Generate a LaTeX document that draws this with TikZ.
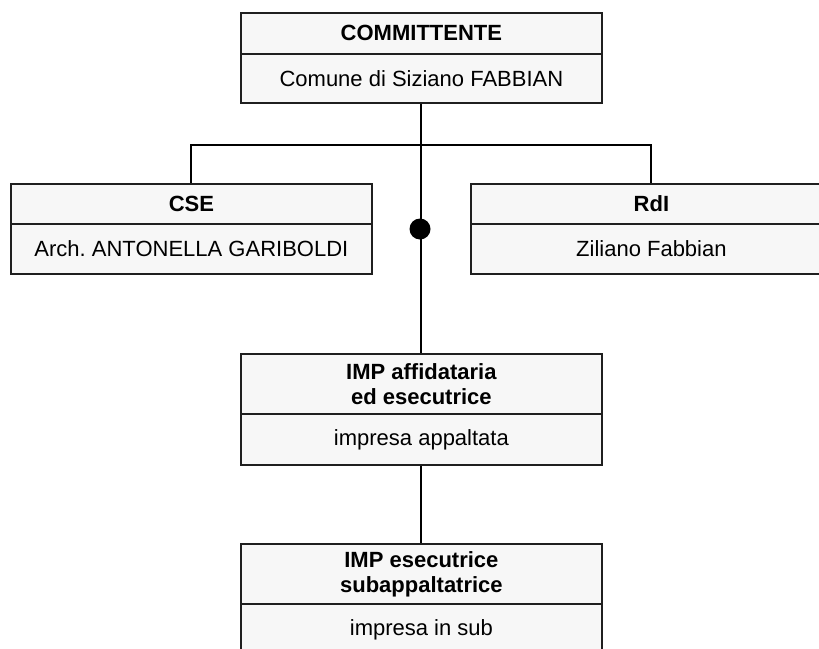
\documentclass[tikz,border=0pt]{standalone}
\usepackage{fontspec}
\setmainfont{Liberation Sans}
\frenchspacing
\begin{document}
\begin{tikzpicture}[x=1pt,y=-1pt,
  boxpart/.style={draw=black!88, line width=1.8pt, fill=gray!6, minimum width=361pt,
    anchor=north west, inner sep=0pt, align=center},
  hdr/.style={boxpart, font=\fontsize{22}{25}\selectfont\bfseries},
  bdy/.style={boxpart, font=\fontsize{22}{25}\selectfont},
  conn/.style={draw=black, line width=2pt},
  dotnode/.style={circle, fill=black, minimum size=21pt, inner sep=0pt}]
\useasboundingbox (0,0) rectangle (819,648);
\clip (0,0) rectangle (819,648);
\fill[white] (0,0) rectangle (819,648);
\coordinate (j) at (420,145);
% boxes
\node[hdr, minimum height=41pt] (commH) at (240,12) {COMMITTENTE};
\node[bdy, minimum height=49pt] (commB) at (240,53) {Comune di Siziano FABBIAN};
\node[hdr, minimum height=40pt] (cseH) at (10,183) {CSE};
\node[bdy, minimum height=50pt] (cseB) at (10,223) {Arch. ANTONELLA GARIBOLDI};
\node[hdr, minimum height=40pt] (rdiH) at (470,183) {RdI};
\node[bdy, minimum height=50pt] (rdiB) at (470,223) {Ziliano Fabbian};
\node[hdr, minimum height=60pt] (impAH) at (240,353) {IMP affidataria\\ed esecutrice};
\node[bdy, minimum height=51pt] (impAB) at (240,413) {impresa appaltata};
\node[hdr, minimum height=60pt] (impSH) at (240,543) {IMP esecutrice\\subappaltatrice};
\node[bdy, minimum height=51pt] (impSB) at (240,603) {impresa in sub};
% connectors
\draw[conn] (commB.south) -- (impAH.north);
\draw[conn] (cseH.north) |- (j) -| (rdiH.north);
\draw[conn] (impAB.south) -- (impSH.north);
\node[dotnode] (dot) at (420,229) {};
\end{tikzpicture}
\end{document}
